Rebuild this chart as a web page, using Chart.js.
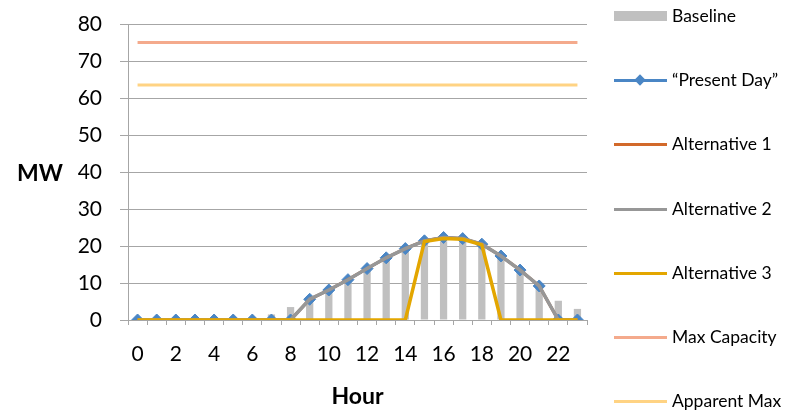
<!DOCTYPE html>
<html>
<head>
<meta charset="utf-8">
<script src="https://cdn.jsdelivr.net/npm/chart.js@4.4.1/dist/chart.umd.min.js"></script>
<style>
  html, body { margin: 0; padding: 0; background: #fff; }
  #wrap { position: relative; width: 793px; height: 410px; font-family: Lato, "Liberation Sans", sans-serif; }
  #c { position: absolute; left: 0; top: 0; }
  #mw { position: absolute; left: 17px; top: 158px; font: bold 23px Lato, sans-serif; color: #000; }
  .lg { position: absolute; left: 614px; height: 20px; }
  .lg .sym { position: absolute; left: 0; width: 53px; }
  .lg .txt { position: absolute; left: 58px; top: -11px; font: 17.5px Lato, sans-serif; color: #000; white-space: nowrap; }
</style>
</head>
<body>
<div id="wrap">
  <canvas id="c" width="793" height="410"></canvas>
  <div id="mw">MW</div>
  <div id="legend"></div>
</div>
<script>
// ---- data ----
const hours = ["0","1","2","3","4","5","6","7","8","9","10","11","12","13","14","15","16","17","18","19","20","21","22","23"];
const baseline     = [0,0,0,0,0,0,0,1.5,3.5,5,7.8,10.5,13.5,16.3,18.8,20.8,21.3,21.3,20.3,17.1,13.4,9,5.2,3.0];
const presentDay   = [0,0,0,0,0,0,0,0,0,5.6,8.1,10.9,13.9,16.8,19.3,21.4,22.3,22.0,20.5,17.3,13.5,9.2,0,0];
const alternative1 = [0,0,0,0,0,0,0,0,0,5.6,8.1,10.9,13.9,16.8,19.3,21.4,22.3,22.0,20.5,17.3,13.5,9.2,0,0];
const alternative2 = [0,0,0,0,0,0,0,0,0,5.6,8.1,10.9,13.9,16.8,19.3,21.4,22.3,22.0,20.5,17.3,13.5,9.2,0,0];
const alternative3 = [0,0,0,0,0,0,0,0,0,0,0,0,0,0,0,21.2,22.0,21.8,20.3,0,0,0,0,0];
const maxCapacity  = [75,75,75,75,75,75,75,75,75,75,75,75,75,75,75,75,75,75,75,75,75,75,75,75];
const apparentMax  = [63.5,63.5,63.5,63.5,63.5,63.5,63.5,63.5,63.5,63.5,63.5,63.5,63.5,63.5,63.5,63.5,63.5,63.5,63.5,63.5,63.5,63.5,63.5,63.5];
const yTicks = [0,10,20,30,40,50,60,70,80];

const C = {
  bar: '#C0C0C0', blue: '#4A86C5', orange: '#D2692A', gray: '#979797',
  gold: '#E3A600', salmon: '#F4AA8C', light: '#FFD383', grid: '#A6A6A6'
};

const lineDs = (label, data, color, width, order, extra) => Object.assign({
  type: 'line', label, data, borderColor: color, backgroundColor: color,
  borderWidth: width, pointRadius: 0, tension: 0, order, fill: false
}, extra || {});

new Chart(document.getElementById('c'), {
  type: 'bar',
  data: {
    labels: hours,
    datasets: [
      { type: 'bar', label: 'Baseline', data: baseline, backgroundColor: C.bar,
        barPercentage: 0.38, categoryPercentage: 1, order: 7 },
      lineDs('\u201cPresent Day\u201d', presentDay, C.blue, 2.5, 6,
        { pointStyle: 'rectRot', pointRadius: 6, pointBackgroundColor: C.blue, pointBorderColor: C.blue, pointBorderWidth: 1 }),
      lineDs('Alternative 1', alternative1, C.orange, 3, 5),
      lineDs('Alternative 2', alternative2, C.gray, 3.5, 4),
      lineDs('Alternative 3', alternative3, C.gold, 3.5, 3),
      lineDs('Max Capacity', maxCapacity, C.salmon, 3, 2),
      lineDs('Apparent Max', apparentMax, C.light, 3, 1)
    ]
  },
  options: {
    responsive: false,
    animation: false,
    devicePixelRatio: 1,
    layout: { padding: { left: 0, right: 206, top: 24, bottom: 0 } },
    plugins: { legend: { display: false }, tooltip: { enabled: false } },
    scales: {
      x: {
        type: 'category',
        offset: true,
        grid: { offset: true, drawOnChartArea: false, drawTicks: true, tickLength: 5, color: C.grid },
        border: { color: C.grid },
        ticks: {
          autoSkip: false, maxRotation: 0, padding: 17, color: '#000',
          font: { family: 'Lato', size: 21 },
          callback: (v, i) => (i % 2 === 0 ? hours[i] : '')
        },
        title: { display: true, text: 'Hour', color: '#000', font: { family: 'Lato', size: 23, weight: 'bold' }, padding: { top: 0, bottom: 0 } },
        afterFit: s => { s.height = 90; }
      },
      y: {
        min: 0, max: 80,
        afterBuildTicks: s => { s.ticks = yTicks.map(v => ({ value: v })); },
        grid: { color: C.grid, tickLength: 8 },
        border: { color: C.grid },
        ticks: { padding: 18, color: '#000', font: { family: 'Lato', size: 21 } },
        afterFit: s => { s.width = 128; s.paddingTop = 0; s.paddingBottom = 0; }
      }
    }
  }
});

// ---- legend ----
const legendItems = [
  { label: 'Baseline', type: 'bar', color: C.bar, y: 16 },
  { label: '\u201cPresent Day\u201d', type: 'marker', color: C.blue, y: 80 },
  { label: 'Alternative 1', type: 'line', color: C.orange, y: 144 },
  { label: 'Alternative 2', type: 'line', color: C.gray, y: 209 },
  { label: 'Alternative 3', type: 'line', color: C.gold, y: 273 },
  { label: 'Max Capacity', type: 'line', color: C.salmon, y: 337 },
  { label: 'Apparent Max', type: 'line', color: C.light, y: 401 }
];
const lg = document.getElementById('legend');
legendItems.forEach(it => {
  const d = document.createElement('div');
  d.className = 'lg';
  d.style.top = it.y + 'px';
  let sym = '';
  if (it.type === 'bar') {
    sym = `<div class="sym" style="top:-5px;height:10px;background:${it.color}"></div>`;
  } else {
    sym = `<div class="sym" style="top:-1.5px;height:3px;background:${it.color}"></div>`;
    if (it.type === 'marker') {
      sym += `<div style="position:absolute;left:22px;top:-4.5px;width:8px;height:8px;background:${it.color};transform:rotate(45deg)"></div>`;
    }
  }
  d.innerHTML = sym + `<span class="txt">${it.label}</span>`;
  lg.appendChild(d);
});
</script>
</body>
</html>
